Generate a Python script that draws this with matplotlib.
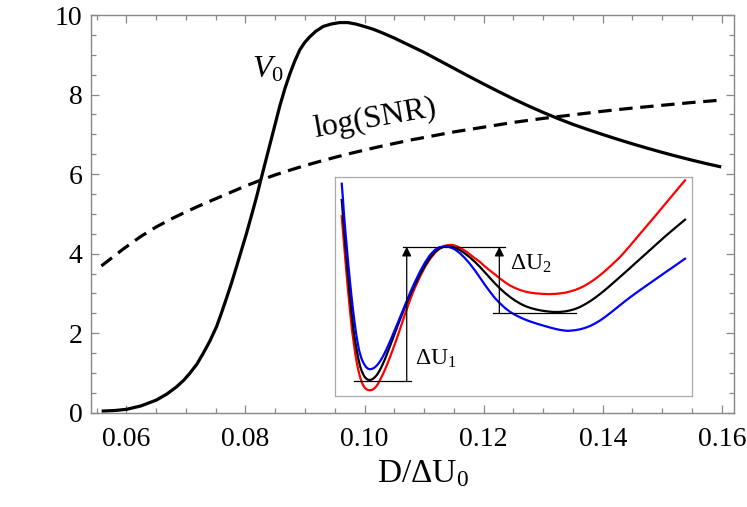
import matplotlib
matplotlib.use("Agg")
import matplotlib.pyplot as plt
from matplotlib.ticker import MultipleLocator

plt.rcParams['font.family'] = ['Liberation Serif', 'DejaVu Serif']
plt.rcParams['mathtext.fontset'] = 'custom'
plt.rcParams['mathtext.rm'] = 'Liberation Serif'
plt.rcParams['mathtext.it'] = 'Liberation Serif:italic'

# ---- main data ----
v0_x = [0.05584, 0.05807, 0.06003, 0.06243, 0.06507, 0.06680, 0.06842, 0.06965,
        0.07065, 0.07183, 0.07289, 0.07401, 0.07513, 0.07597, 0.07681, 0.07765,
        0.07849, 0.07933, 0.08017, 0.08101, 0.08185, 0.08257, 0.08332, 0.08408,
        0.08492, 0.08576, 0.08660, 0.08743, 0.08827, 0.08911, 0.08995, 0.09079,
        0.09180, 0.09302, 0.09431, 0.09582, 0.09720, 0.09860, 0.10000, 0.10150,
        0.10300, 0.10500, 0.10750, 0.11000, 0.11250, 0.11500, 0.11750, 0.12000,
        0.12250, 0.12500, 0.12750, 0.13000, 0.13250, 0.13500, 0.13750, 0.14000,
        0.14250, 0.14500, 0.14750, 0.15000, 0.15250, 0.15500, 0.15750, 0.15990]
v0_y = [0.04, 0.055, 0.085, 0.17, 0.32, 0.47, 0.65, 0.82,
        0.99, 1.22, 1.49, 1.80, 2.16, 2.51, 2.88, 3.26,
        3.67, 4.09, 4.51, 4.96, 5.42, 5.85, 6.29, 6.73,
        7.22, 7.71, 8.14, 8.51, 8.84, 9.12, 9.31, 9.45,
        9.59, 9.71, 9.77, 9.81, 9.81, 9.77, 9.71, 9.64,
        9.55, 9.42, 9.24, 9.06, 8.86, 8.66, 8.46, 8.265,
        8.075, 7.89, 7.715, 7.55, 7.395, 7.25, 7.12, 6.995,
        6.875, 6.76, 6.65, 6.545, 6.445, 6.35, 6.26, 6.18]

snr_x = [0.0558, 0.0595, 0.0625, 0.0650, 0.0675, 0.0700, 0.0725, 0.0750,
         0.0775, 0.0800, 0.0826, 0.0850, 0.0875, 0.0900, 0.0925, 0.0950,
         0.0975, 0.1000, 0.1025, 0.1050, 0.1075, 0.1100, 0.1125, 0.1150,
         0.1175, 0.1200, 0.1250, 0.1300, 0.1350, 0.1400, 0.1450, 0.1500,
         0.1550, 0.1599]
snr_y = [3.69, 4.12, 4.44, 4.67, 4.87, 5.05, 5.22, 5.38,
         5.54, 5.70, 5.85, 5.98, 6.10, 6.215, 6.32, 6.42,
         6.515, 6.605, 6.69, 6.77, 6.85, 6.92, 6.99, 7.06,
         7.12, 7.18, 7.30, 7.40, 7.49, 7.58, 7.66, 7.73,
         7.80, 7.86]

# ---- inset data (arbitrary units) ----
blk_x = [6.7, 8.1, 9.5, 11, 12.5, 14, 15.5, 17, 18.5, 20, 22, 23.5, 25, 26.5, 28,
         29.5, 31, 32.5, 34.3, 36, 38, 40, 42, 44, 46, 48, 50, 52.5, 55, 57.5, 60,
         62.5, 65, 67.5, 70, 72.5, 75, 77.5, 80, 85, 90, 95, 100, 104, 108, 111,
         113.3, 116, 119, 122, 125, 130, 135, 140, 145, 150, 155, 160, 165, 170,
         175, 180, 185, 190, 195, 200, 205, 210, 215, 220, 225, 230, 235, 240,
         245, 250, 255, 260, 265, 270, 275, 280, 290, 300, 310, 320, 330, 340, 350]
blk_y = [196, 178.5, 161, 143.5, 126, 110, 94, 79.5, 66, 56, 44, 36.5, 30, 25.5, 22,
         19.3, 17.6, 16.5, 16, 16.25, 17.2, 18.9, 21.3, 24.4, 28.2, 32.5, 37, 43.5,
         50, 56.7, 63.3, 70, 76.5, 82.8, 89, 95, 100.8, 106.3, 111.5, 121.5, 130.5,
         138.3, 144.2, 147.3, 149, 149.4, 149.5, 149.3, 148.5, 147.3, 145.8, 142.5,
         138.5, 134, 129, 123.5, 118, 112.5, 107.5, 103, 99, 95.5, 92.5, 90, 88.2,
         86.8, 85.7, 84.9, 84.3, 84, 84.1, 84.6, 85.6, 87, 89, 91.7, 94.7, 98.2,
         102, 106, 110.3, 114.7, 123.5, 132.5, 141.5, 150.5, 159.5, 168, 176.3]

red_x = [6.7, 8.1, 9.5, 11, 12.5, 14, 15.5, 17, 19, 20.5, 22, 23.5, 25, 26.5, 28,
         29.5, 31, 33, 35, 37, 39, 41, 43, 45, 47.5, 50, 52.5, 55, 57.5, 60, 62.5,
         65, 67.5, 70, 72.5, 75, 77.5, 80, 85, 90, 95, 100, 105, 110, 114, 117,
         120, 124, 128, 132, 136, 140, 145, 150, 155, 160, 165, 170, 175, 180, 185,
         190, 195, 200, 205, 210, 215, 220, 225, 230, 235, 240, 245, 250, 255, 260,
         265, 270, 275, 280, 285, 290, 295, 300, 305, 310, 315, 320, 325, 330, 340,
         350]
red_y = [179.7, 162.5, 146, 128, 111, 95, 80, 65.5, 51, 40.5, 32, 25, 19, 14.5, 11,
         8.6, 7, 6, 5.7, 6.1, 7.3, 9.3, 12.2, 16, 21, 26.5, 32.5, 39, 45.7, 52.5,
         59.5, 67, 74.5, 82, 89, 96, 102.5, 108.5, 119.5, 129, 137, 143.3, 147.7,
         150.3, 151.1, 151.1, 150.4, 148.8, 146.4, 144, 140.7, 137.6, 134, 129.4,
         125.4, 121.5, 117.5, 113.7, 110.5, 108, 106, 104.5, 103.4, 102.7, 102.3,
         102, 101.9, 102.1, 102.6, 103.3, 104.5, 106, 108, 110.5, 113.5, 117, 120.8,
         125, 129.5, 134.2, 139, 144.5, 150.3, 156.2, 162.2, 168, 174, 179.8, 185.8,
         191.8, 203.8, 215.7]

blu_x = [6.7, 8, 9, 10.5, 12, 13.5, 15, 16.5, 18, 19.5, 21, 22.5, 24, 25.5, 27, 29,
         31, 33, 35, 37.5, 40, 42.5, 45, 47.5, 50, 52.5, 55, 57.5, 60, 62.5, 65,
         67.5, 70, 72.5, 75, 77.5, 80, 85, 90, 95, 100, 104, 108, 110, 113, 116,
         120, 125, 130, 135, 140, 145, 150, 155, 160, 165, 170, 175, 180, 185, 190,
         195, 200, 205, 210, 215, 220, 225, 230, 232, 235, 240, 245, 250, 255, 260,
         265, 270, 275, 280, 285, 290, 295, 300, 305, 310, 315, 320, 325, 330, 340,
         350]
blu_y = [212.3, 196, 181, 163, 146, 129.5, 114, 99.5, 86, 74, 63, 54, 46, 40.5, 36,
         32, 29, 27.3, 26.7, 27.3, 28.8, 31.3, 34.7, 38.8, 43.7, 49, 54.7, 60.6,
         66.6, 72.6, 78.7, 84.8, 91, 97, 103, 108.7, 114.2, 124.5, 133.5, 141,
         146.2, 148.6, 149.5, 149.6, 149.3, 148.4, 146.5, 142.7, 137.8, 132, 125.5,
         118.3, 111, 104.2, 97.8, 92.6, 88, 84.2, 81.2, 78.7, 76.5, 74.6, 72.9, 71.4,
         69.9, 68.5, 67.2, 66.1, 65.4, 65.2, 65.3, 65.8, 66.7, 68.1, 70, 72.5, 75.5,
         79, 82.8, 86.8, 90.8, 94.8, 98.6, 102.3, 105.9, 109.4, 112.9, 116.4, 119.9,
         123.4, 130.3, 137.3]

# barrier annotation levels (arbitrary units)
top_level = 149.3
left_min_level = 15
right_min_level = 82.7

fig = plt.figure(figsize=(7.47, 5.07), dpi=100)
ax = fig.add_axes([0.1214, 0.186, 0.983 - 0.1214, 0.9704 - 0.186])

ax.plot(v0_x, v0_y, color='black', lw=2.3, solid_capstyle='butt', solid_joinstyle='round')
ax.plot(snr_x, snr_y, color='black', lw=2.3, dashes=(4.2, 2.4))

ax.set_xlim(0.054, 0.1621)
ax.set_ylim(0, 10)
ax.xaxis.set_major_locator(MultipleLocator(0.02))
ax.xaxis.set_minor_locator(MultipleLocator(0.005))
ax.yaxis.set_major_locator(MultipleLocator(2))
ax.yaxis.set_minor_locator(MultipleLocator(0.5))
ax.xaxis.set_major_formatter(plt.FuncFormatter(lambda v, p: f"{v:.2f}"))
ax.yaxis.set_major_formatter(plt.FuncFormatter(lambda v, p: f"{v:.0f}"))

for sp in ax.spines.values():
    sp.set_color('#888888')
    sp.set_linewidth(1.0)
ax.tick_params(which='both', direction='in', top=True, right=True, color='#888888',
               labelsize=20, width=0.9)
ax.tick_params(which='major', length=6)
ax.tick_params(which='minor', length=3.6)
ax.tick_params(axis='x', pad=10)
ax.tick_params(axis='y', pad=6)

ax.set_xlabel(r'D/$\Delta$U$_0$', fontsize=24, labelpad=5, x=0.516)

ax.text(0.0838, 8.62, r'$V_0$', fontsize=23, ha='center', va='center')
ax.text(0.1017, 7.38, 'log(SNR)', fontsize=23, ha='center', va='center', rotation=10)

# ---- inset ----
ins = fig.add_axes([0.4485, 0.2189, 0.4779, 0.4320])
ins.set_xlim(0, 357)
ins.set_ylim(0, 219)
ins.set_xticks([])
ins.set_yticks([])
for sp in ins.spines.values():
    sp.set_color('#aaaaaa')
    sp.set_linewidth(0.9)

ins.plot(red_x, red_y, color='#ff0000', lw=1.6, solid_joinstyle='round')
ins.plot(blk_x, blk_y, color='black', lw=1.6, solid_joinstyle='round')
ins.plot(blu_x, blu_y, color='#0000ff', lw=1.6, solid_joinstyle='round')

ins.plot([67.7, 170], [top_level, top_level], color='black', lw=0.9)
ins.plot([19, 75.7], [left_min_level, left_min_level], color='black', lw=0.9)
ins.plot([157.7, 241], [right_min_level, right_min_level], color='black', lw=0.9)

arrow_kw = dict(arrowstyle='-|>', color='black', lw=0.9, mutation_scale=14,
                shrinkA=0, shrinkB=0)
ins.annotate('', xy=(71.7, top_level), xytext=(71.7, left_min_level), arrowprops=arrow_kw)
ins.annotate('', xy=(164.3, top_level), xytext=(164.3, right_min_level), arrowprops=arrow_kw)

ins.text(80, 37, r'$\Delta$U$_1$', fontsize=17, ha='left', va='center')
ins.text(175, 132, r'$\Delta$U$_2$', fontsize=17, ha='left', va='center')

fig.savefig('out.png', dpi=100)
